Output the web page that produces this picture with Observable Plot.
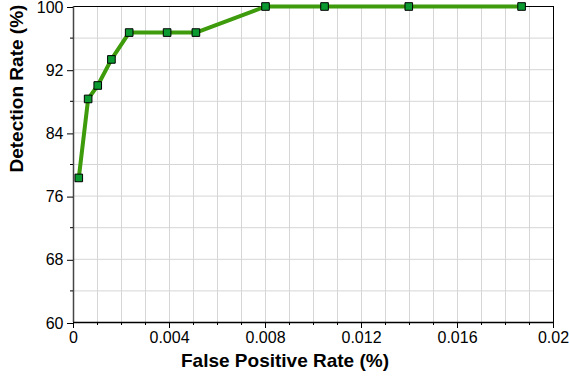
<!DOCTYPE html>
<html><head><meta charset="utf-8">
<script src="https://cdn.jsdelivr.net/npm/d3@7"></script>
<script src="https://cdn.jsdelivr.net/npm/@observablehq/plot@0.6"></script>
<style>html,body{margin:0;padding:0;background:#fff;overflow:hidden} svg{display:block}</style>
</head><body><div id="chart"></div>
<script>
const fpr = [0.00022, 0.00061, 0.00101, 0.00158, 0.00232, 0.0039, 0.0051, 0.008, 0.01046, 0.01397, 0.01867];
const detection = [78.3, 88.3, 90.0, 93.3, 96.7, 96.7, 96.7, 100, 100, 100, 100];
const xTicks = [0, 0.004, 0.008, 0.012, 0.016, 0.02];
const xTickLabels = ["0", "0.004", "0.008", "0.012", "0.016", "0.02"];
const yTicks = [60, 68, 76, 84, 92, 100];
const xGrid = [0.001,0.002,0.003,0.004,0.005,0.006,0.007,0.008,0.009,0.010,0.011,0.012,0.013,0.014,0.015,0.016,0.017,0.018,0.019];
const yGrid = [64, 68, 72, 76, 80, 84, 88, 92, 96];
const xMinor = [0.001,0.002,0.003,0.005,0.006,0.007,0.009,0.010,0.011,0.013,0.014,0.015,0.017,0.018,0.019];
const yMinor = [64, 72, 80, 88, 96];
const xTitle = "False Positive Rate (%)";
const yTitle = "Detection Rate (%)";

const data = fpr.map((x, i) => ({x, y: detection[i]}));
const font = "Liberation Sans, Arial, Helvetica, sans-serif";

const chart = Plot.plot({
  width: 569, height: 381,
  marginLeft: 73, marginTop: 6, marginRight: 16, marginBottom: 59,
  style: {fontFamily: font, fontSize: "16px", color: "#000", background: "#fff", overflow: "visible"},
  x: {domain: [0, 0.02]},
  y: {domain: [60, 100]},
  marks: [
    Plot.ruleX(xGrid, {x: d => d, stroke: "#d6d6d6", strokeWidth: 1}),
    Plot.ruleY(yGrid, {y: d => d, stroke: "#d6d6d6", strokeWidth: 1}),
    Plot.frame({stroke: "#000", strokeWidth: 1}),
    Plot.ruleX([0], {stroke: "#444", strokeWidth: 1.5}),
    Plot.ruleY([60], {stroke: "#000", strokeWidth: 1.5}),
    Plot.axisX({ticks: xTicks, tickSize: 6, tickPadding: 3, tickFormat: (d, i) => xTickLabels[i], label: null, fontSize: 16}),
    Plot.axisX({ticks: xMinor, tickSize: 3, text: null, label: null}),
    Plot.axisY({ticks: yTicks, tickSize: 6, tickPadding: 4, dy: 1, tickFormat: d => String(d), label: null, fontSize: 16}),
    Plot.axisY({ticks: yMinor, tickSize: 3, text: null, label: null}),
    Plot.line(data, {x: "x", y: "y", stroke: "#3d9b0c", strokeWidth: 4, strokeLinejoin: "round"}),
    Plot.dot(data, {x: "x", y: "y", symbol: "square", r: 4.3, fill: "#0a9a30", stroke: "#000", strokeWidth: 1}),
    Plot.text([xTitle], {frameAnchor: "bottom", dx: -28.5, dy: 44, text: d => d, fontSize: 19, fontWeight: "bold", fill: "#000"}),
    Plot.text([yTitle], {frameAnchor: "left", dx: -56.5, dy: 8, rotate: -90, text: d => d, fontSize: 19, fontWeight: "bold", fill: "#000"})
  ]
});
document.getElementById("chart").appendChild(chart);
</script>
</body></html>
